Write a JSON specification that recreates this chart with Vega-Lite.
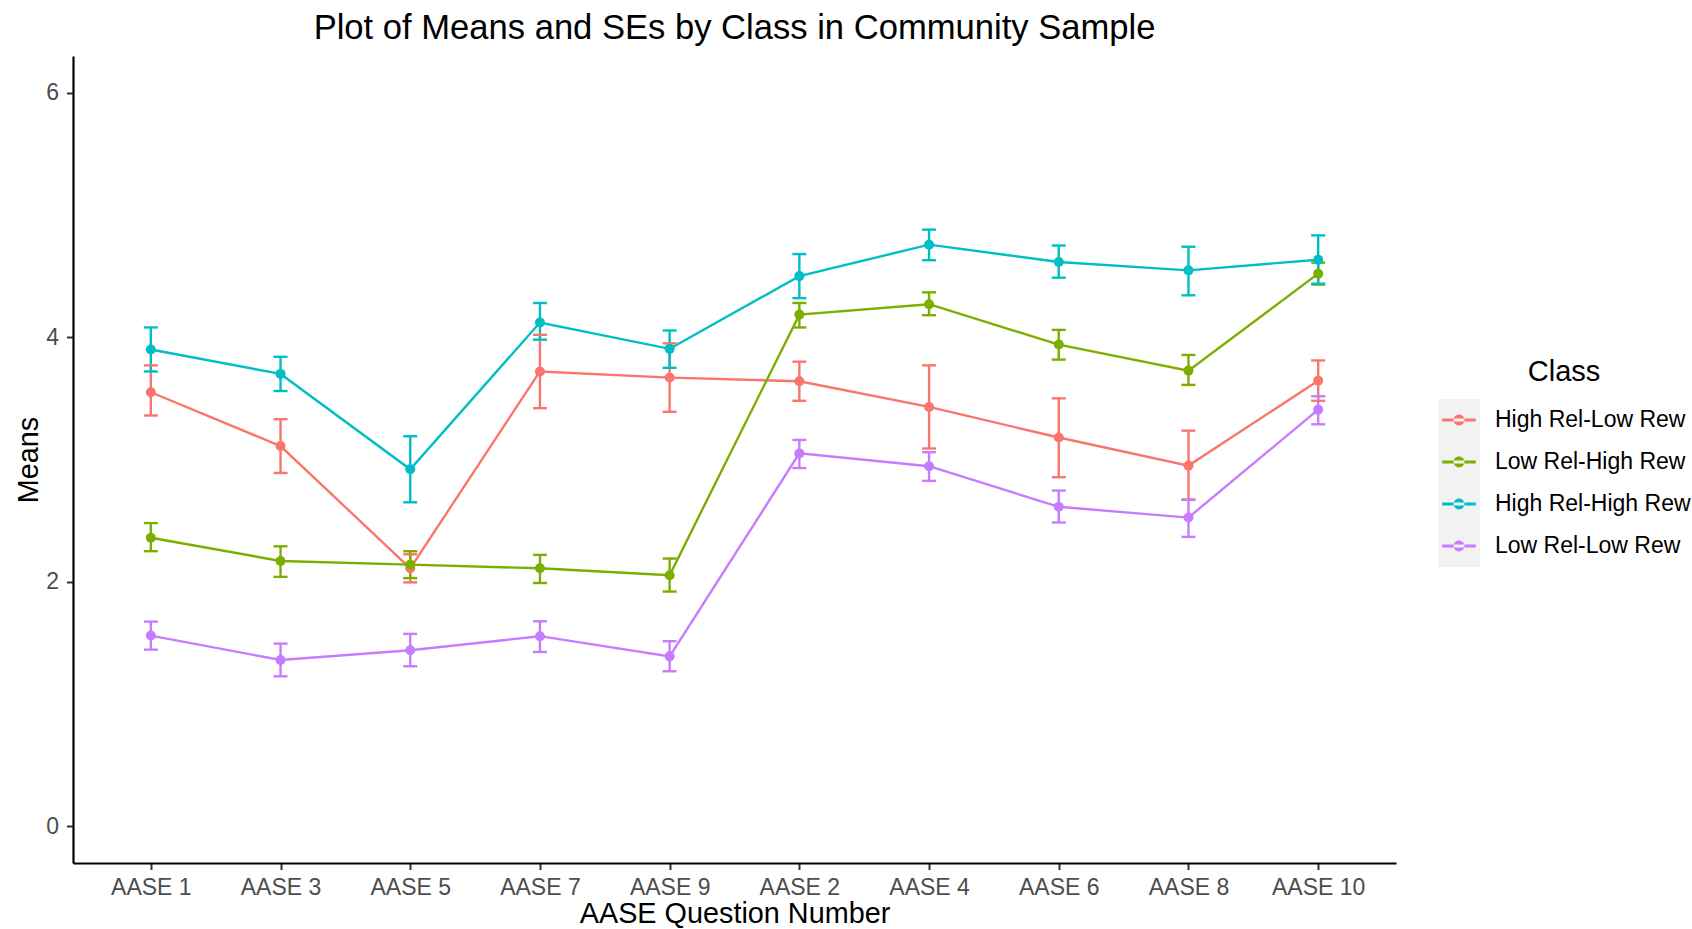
{
  "$schema": "https://vega.github.io/schema/vega-lite/v6.json",
  "autosize": {"type": "none"},
  "padding": {"left": 73, "top": 56, "right": 296, "bottom": 66},
  "width": 1323,
  "height": 807,
  "background": "white",
  "config": {
    "view": {"stroke": null},
    "font": "Liberation Sans"
  },
  "title": {
    "text": "Plot of Means and SEs by Class in Community Sample",
    "font": "Liberation Sans",
    "fontSize": 34.6,
    "fontWeight": "normal",
    "color": "#000000",
    "anchor": "middle",
    "frame": "group",
    "baseline": "alphabetic",
    "offset": -17.5
  },
  "data": {
    "values": [
      {"q": "AASE 1", "cls": "High Rel-Low Rew", "mean": 3.55, "lo": 3.36, "hi": 3.77},
      {"q": "AASE 3", "cls": "High Rel-Low Rew", "mean": 3.11, "lo": 2.89, "hi": 3.33},
      {"q": "AASE 5", "cls": "High Rel-Low Rew", "mean": 2.11, "lo": 1.995, "hi": 2.225},
      {"q": "AASE 7", "cls": "High Rel-Low Rew", "mean": 3.72, "lo": 3.42, "hi": 4.02},
      {"q": "AASE 9", "cls": "High Rel-Low Rew", "mean": 3.67, "lo": 3.39, "hi": 3.95},
      {"q": "AASE 2", "cls": "High Rel-Low Rew", "mean": 3.64, "lo": 3.48, "hi": 3.80},
      {"q": "AASE 4", "cls": "High Rel-Low Rew", "mean": 3.43, "lo": 3.09, "hi": 3.77},
      {"q": "AASE 6", "cls": "High Rel-Low Rew", "mean": 3.18, "lo": 2.855, "hi": 3.50},
      {"q": "AASE 8", "cls": "High Rel-Low Rew", "mean": 2.95, "lo": 2.67, "hi": 3.236},
      {"q": "AASE 10", "cls": "High Rel-Low Rew", "mean": 3.645, "lo": 3.48, "hi": 3.81},
      {"q": "AASE 1", "cls": "Low Rel-High Rew", "mean": 2.36, "lo": 2.25, "hi": 2.48},
      {"q": "AASE 3", "cls": "Low Rel-High Rew", "mean": 2.17, "lo": 2.04, "hi": 2.29},
      {"q": "AASE 5", "cls": "Low Rel-High Rew", "mean": 2.14, "lo": 2.03, "hi": 2.25},
      {"q": "AASE 7", "cls": "Low Rel-High Rew", "mean": 2.11, "lo": 1.99, "hi": 2.22},
      {"q": "AASE 9", "cls": "Low Rel-High Rew", "mean": 2.054, "lo": 1.92, "hi": 2.19},
      {"q": "AASE 2", "cls": "Low Rel-High Rew", "mean": 4.185, "lo": 4.08, "hi": 4.28},
      {"q": "AASE 4", "cls": "Low Rel-High Rew", "mean": 4.27, "lo": 4.18, "hi": 4.367},
      {"q": "AASE 6", "cls": "Low Rel-High Rew", "mean": 3.94, "lo": 3.817, "hi": 4.06},
      {"q": "AASE 8", "cls": "Low Rel-High Rew", "mean": 3.727, "lo": 3.61, "hi": 3.855},
      {"q": "AASE 10", "cls": "Low Rel-High Rew", "mean": 4.52, "lo": 4.43, "hi": 4.61},
      {"q": "AASE 1", "cls": "High Rel-High Rew", "mean": 3.90, "lo": 3.72, "hi": 4.08},
      {"q": "AASE 3", "cls": "High Rel-High Rew", "mean": 3.70, "lo": 3.56, "hi": 3.84},
      {"q": "AASE 5", "cls": "High Rel-High Rew", "mean": 2.92, "lo": 2.65, "hi": 3.19},
      {"q": "AASE 7", "cls": "High Rel-High Rew", "mean": 4.12, "lo": 3.98, "hi": 4.28},
      {"q": "AASE 9", "cls": "High Rel-High Rew", "mean": 3.905, "lo": 3.75, "hi": 4.055},
      {"q": "AASE 2", "cls": "High Rel-High Rew", "mean": 4.50, "lo": 4.32, "hi": 4.68},
      {"q": "AASE 4", "cls": "High Rel-High Rew", "mean": 4.757, "lo": 4.63, "hi": 4.88},
      {"q": "AASE 6", "cls": "High Rel-High Rew", "mean": 4.615, "lo": 4.487, "hi": 4.75},
      {"q": "AASE 8", "cls": "High Rel-High Rew", "mean": 4.547, "lo": 4.343, "hi": 4.74},
      {"q": "AASE 10", "cls": "High Rel-High Rew", "mean": 4.634, "lo": 4.438, "hi": 4.833},
      {"q": "AASE 1", "cls": "Low Rel-Low Rew", "mean": 1.56, "lo": 1.445, "hi": 1.674},
      {"q": "AASE 3", "cls": "Low Rel-Low Rew", "mean": 1.36, "lo": 1.227, "hi": 1.494},
      {"q": "AASE 5", "cls": "Low Rel-Low Rew", "mean": 1.44, "lo": 1.309, "hi": 1.574},
      {"q": "AASE 7", "cls": "Low Rel-Low Rew", "mean": 1.555, "lo": 1.426, "hi": 1.677},
      {"q": "AASE 9", "cls": "Low Rel-Low Rew", "mean": 1.39, "lo": 1.268, "hi": 1.514},
      {"q": "AASE 2", "cls": "Low Rel-Low Rew", "mean": 3.05, "lo": 2.93, "hi": 3.16},
      {"q": "AASE 4", "cls": "Low Rel-Low Rew", "mean": 2.945, "lo": 2.825, "hi": 3.06},
      {"q": "AASE 6", "cls": "Low Rel-Low Rew", "mean": 2.613, "lo": 2.485, "hi": 2.746},
      {"q": "AASE 8", "cls": "Low Rel-Low Rew", "mean": 2.525, "lo": 2.367, "hi": 2.673},
      {"q": "AASE 10", "cls": "Low Rel-Low Rew", "mean": 3.408, "lo": 3.288, "hi": 3.517}
    ]
  },
  "encoding": {
    "x": {
      "field": "q",
      "type": "nominal",
      "scale": {
        "type": "point",
        "padding": 0.6,
        "domain": ["AASE 1", "AASE 3", "AASE 5", "AASE 7", "AASE 9", "AASE 2", "AASE 4", "AASE 6", "AASE 8", "AASE 10"]
      },
      "axis": {
        "title": "AASE Question Number",
        "titleFont": "Liberation Sans",
        "titleFontSize": 28.8,
        "titleFontWeight": "normal",
        "titleColor": "#000000",
        "titleBaseline": "alphabetic",
        "titleY": 59.5,
        "labelFont": "Liberation Sans",
        "labelFontSize": 23,
        "labelColor": "#4D4D4D",
        "labelAngle": 0,
        "labelOverlap": false,
        "labelPadding": 6.8,
        "domainColor": "#000000",
        "domainWidth": 2.2,
        "tickColor": "#333333",
        "tickWidth": 2,
        "tickSize": 6.5,
        "grid": false
      }
    }
  },
  "layer": [
    {
      "mark": {"type": "point", "filled": true, "size": 10, "opacity": 0},
      "encoding": {
        "y": {
          "field": "mean",
          "type": "quantitative",
          "scale": {"domain": [-0.3, 6.3], "nice": false, "zero": false},
          "axis": {
            "title": "Means",
            "values": [0, 2, 4, 6],
            "format": "d",
            "titleFont": "Liberation Sans",
            "titleFontSize": 28.8,
            "titleFontWeight": "normal",
            "titleColor": "#000000",
            "titleBaseline": "alphabetic",
            "titleX": -36,
            "labelFont": "Liberation Sans",
            "labelFontSize": 23,
            "labelColor": "#4D4D4D",
            "labelPadding": 8,
            "domainColor": "#000000",
            "domainWidth": 2.2,
            "tickColor": "#333333",
            "tickWidth": 2,
            "tickSize": 6.5,
            "grid": false
          }
        },
        "color": {
          "field": "cls",
          "type": "nominal",
          "scale": {
            "domain": ["High Rel-Low Rew", "Low Rel-High Rew", "High Rel-High Rew", "Low Rel-Low Rew"],
            "range": ["#F8766D", "#7CAE00", "#00BFC4", "#C77CFF"]
          },
          "legend": {
            "title": "Class",
            "orient": "none",
            "legendX": 1365,
            "legendY": 302,
            "padding": 0,
            "zindex": 2,
            "titleFont": "Liberation Sans",
            "titleFontSize": 29,
            "titleFontWeight": "normal",
            "titleColor": "#000000",
            "titleAnchor": "middle",
            "titlePadding": 12,
            "labelFont": "Liberation Sans",
            "labelFontSize": 23,
            "labelColor": "#000000",
            "labelOffset": 15,
            "labelLimit": 400,
            "rowPadding": 0,
            "symbolSize": 1764,
            "symbolType": "M-0.8,-0.07 L0.8,-0.07 L0.8,0.07 L-0.8,0.07 Z M-0.26,0 A0.26,0.26 0 1,0 0.26,0 A0.26,0.26 0 1,0 -0.26,0 Z M0,-1 L0,-1 Z M0,1 L0,1 Z M-1,0 L-1,0 Z M1,0 L1,0 Z",
            "symbolStrokeWidth": 0,
            "symbolOpacity": 1
          }
        }
      }
    },
    {
      "mark": {"type": "point", "filled": true, "size": 10, "opacity": 0, "color": "#F2F2F2"},
      "encoding": {
        "y": {"field": "mean", "type": "quantitative"},
        "shape": {
          "field": "cls",
          "type": "nominal",
          "sort": "descending",
          "scale": {"range": ["square"]},
          "legend": {
            "title": "Class",
            "orient": "none",
            "legendX": 1365,
            "legendY": 302,
            "padding": 0,
            "zindex": 1,
            "titleFont": "Liberation Sans",
            "titleFontSize": 29,
            "titleFontWeight": "normal",
            "titleColor": "rgba(0,0,0,0)",
            "titleAnchor": "start",
            "titlePadding": 12,
            "labelFont": "Liberation Sans",
            "labelFontSize": 23,
            "labelColor": "rgba(0,0,0,0)",
            "labelExpr": "''",
            "labelOffset": 15,
            "labelLimit": 400,
            "rowPadding": 0,
            "symbolSize": 1764,
            "symbolStrokeWidth": 0,
            "symbolOpacity": 1
          }
        }
      }
    },
    {
      "mark": {"type": "line", "strokeWidth": 2.4},
      "encoding": {
        "y": {"field": "mean", "type": "quantitative"},
        "color": {"field": "cls", "type": "nominal", "legend": null}
      }
    },
    {
      "mark": {"type": "rule", "strokeWidth": 2.4},
      "encoding": {
        "y": {"field": "lo", "type": "quantitative"},
        "y2": {"field": "hi"},
        "color": {"field": "cls", "type": "nominal", "legend": null}
      }
    },
    {
      "mark": {"type": "tick", "thickness": 2.4, "size": 14, "opacity": 1},
      "encoding": {
        "y": {"field": "lo", "type": "quantitative"},
        "color": {"field": "cls", "type": "nominal", "legend": null}
      }
    },
    {
      "mark": {"type": "tick", "thickness": 2.4, "size": 14, "opacity": 1},
      "encoding": {
        "y": {"field": "hi", "type": "quantitative"},
        "color": {"field": "cls", "type": "nominal", "legend": null}
      }
    },
    {
      "mark": {"type": "point", "filled": true, "size": 100, "opacity": 1},
      "encoding": {
        "y": {"field": "mean", "type": "quantitative"},
        "color": {"field": "cls", "type": "nominal", "legend": null}
      }
    }
  ]
}
